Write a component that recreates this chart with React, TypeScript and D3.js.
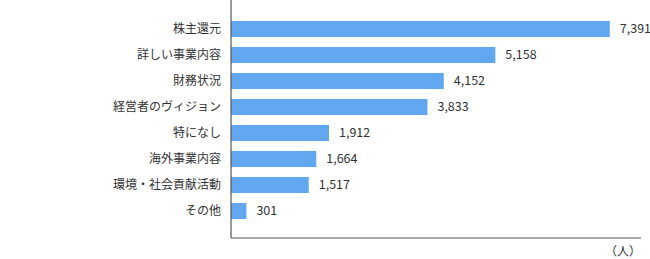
import React from "react";
import * as d3 from "d3";

const categories = ["株主還元", "詳しい事業内容", "財務状況", "経営者のヴィジョン", "特になし", "海外事業内容", "環境・社会貢献活動", "その他"];
const values = [7391, 5158, 4152, 3833, 1912, 1664, 1517, 301];
const unitLabel = "（人）";

const W = 650;
const H = 259;
const left = 231;
const right = 641;
const top = 0;
const bottom = 238;

export default function App() {
  const x = d3.scaleLinear().domain([0, 8000]).range([left, right]);
  const y = d3.scaleBand<string>().domain(categories).range([16, 224]).paddingInner(0.38).paddingOuter(0.19);
  const fmt = d3.format(",");
  const font = "'Noto Sans CJK JP', 'Noto Sans', sans-serif";
  return (
    <svg width={W} height={H} style={{ position: "absolute", left: 0, top: 0 }} fontFamily={font}>
      <rect x={0} y={0} width={W} height={H} fill="#fff" />
      {categories.map((c, i) => (
        <g key={c}>
          <rect x={x(0)} y={y(c)!} width={x(values[i]) - x(0)} height={y.bandwidth()} fill="#62a8f0" />
          <text x={left - 10} y={y(c)! + y.bandwidth() / 2} dy="0.35em" textAnchor="end" fontSize={12} fill="#333">{c}</text>
          <text x={x(values[i]) + 10} y={y(c)! + y.bandwidth() / 2} dy="0.35em" textAnchor="start" fontSize={12.5} fill="#333">{fmt(values[i])}</text>
        </g>
      ))}
      <line x1={left} x2={left} y1={top} y2={bottom} stroke="#555" strokeWidth={1.2} />
      <line x1={left} x2={right} y1={bottom} y2={bottom} stroke="#555" strokeWidth={1.2} />
      <text x={right} y={252} dy="0.35em" textAnchor="end" fontSize={12} fill="#333">{unitLabel}</text>
    </svg>
  );
}
